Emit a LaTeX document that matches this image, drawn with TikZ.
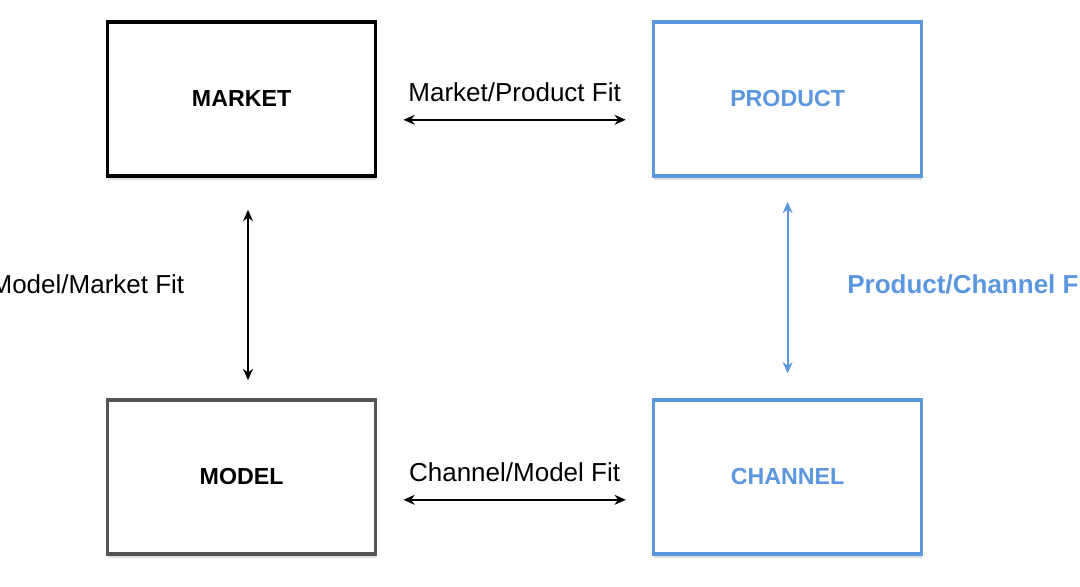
\documentclass[tikz,border=0pt]{standalone}
\usepackage{fontspec}
\setmainfont{Liberation Sans}
\usetikzlibrary{arrows.meta,shadows}
\definecolor{fitblue}{HTML}{5B97DE}
\definecolor{modelgray}{HTML}{555555}
\tikzset{
  box/.style={draw, line width=2.6pt, minimum width=6.7cm, minimum height=3.85cm,
    fill=white, font=\bfseries\fontsize{16.5}{19}\selectfont,
    drop shadow={shadow xshift=0pt, shadow yshift=-3pt, opacity=0.25}},
  fit/.style={{Stealth[length=8pt,width=7pt]}-{Stealth[length=8pt,width=7pt]}, line width=1.5pt},
  fitlabel/.style={font=\fontsize{18.5}{22}\selectfont}
}
\begin{document}
\begin{tikzpicture}
    \useasboundingbox (0,0) rectangle (27,14.65);
    \clip (0,0) rectangle (27,14.65);
    % boxes
    \node[box] (market) at (6.04,12.175) {MARKET};
    \node[box, draw=fitblue, text=fitblue] (product) at (19.69,12.175) {PRODUCT};
    \node[box, draw=modelgray] (model) at (6.04,2.725) {MODEL};
    \node[box, draw=fitblue, text=fitblue] (channel) at (19.69,2.725) {CHANNEL};

    % fits
    \draw[fit] ([xshift=0.65cm,yshift=-0.52cm]market.east) -- ([xshift=-0.65cm,yshift=-0.52cm]product.west)
        node[midway,above=0.3cm,fitlabel]{Market/Product Fit};
    \draw[fit] ([xshift=0.65cm,yshift=-0.57cm]model.east) -- ([xshift=-0.65cm,yshift=-0.57cm]channel.west)
        node[midway,above=0.3cm,fitlabel]{Channel/Model Fit};
    \draw[fit] ([xshift=0.16cm,yshift=-0.8cm]market.south) -- ([xshift=0.16cm,yshift=0.45cm]model.north)
        node[midway,left=1.45cm,yshift=0.27cm,fitlabel]{Model/Market Fit};
    \draw[fit, fitblue] ([yshift=-0.6cm]product.south) -- ([yshift=0.62cm]channel.north)
        node[midway,right=1.35cm,yshift=0.08cm,font=\bfseries\fontsize{18.5}{22}\selectfont]{Product/Channel Fit};
\end{tikzpicture}
\end{document}
